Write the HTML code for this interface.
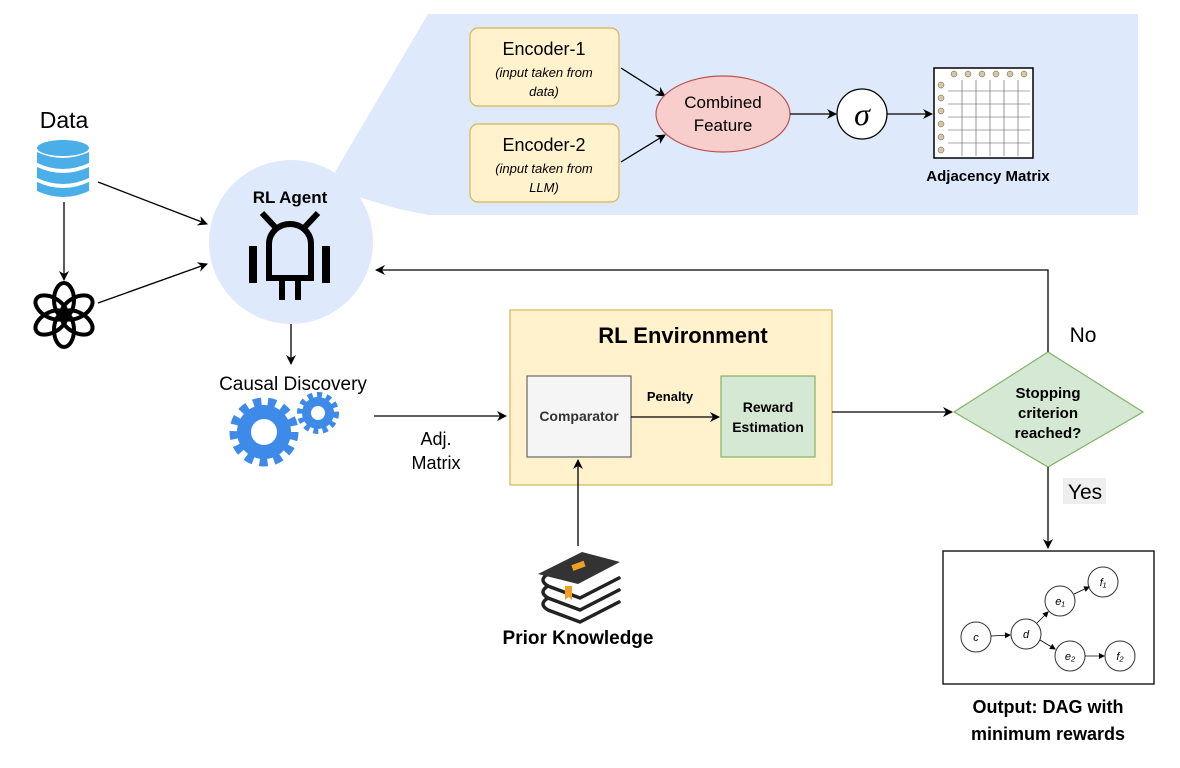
<!DOCTYPE html>
<html><head><meta charset="utf-8"><style>
html,body{margin:0;padding:0;background:#fff}
svg{display:block}
text{font-family:"Liberation Sans",Arial,sans-serif}
</style></head><body>
<svg width="1180" height="768" viewBox="0 0 1180 768" xmlns="http://www.w3.org/2000/svg">
<defs>
<marker id="a" markerWidth="10" markerHeight="10" refX="9" refY="5" orient="auto" markerUnits="userSpaceOnUse"><path d="M0,0 L10,5 L0,10 L3,5 z" fill="#000"/></marker>
<marker id="s" markerWidth="6" markerHeight="6" refX="5" refY="3" orient="auto" markerUnits="userSpaceOnUse"><path d="M0,0 L6,3 L0,6 z" fill="#000"/></marker>
</defs>
<polygon points="428,14 1138,14 1138,215 428,215 395,208 355,196 335,172" fill="#dfe9fc"/>
<circle cx="291" cy="242" r="82" fill="#dfe9fc"/>
<text x="64" y="128" font-size="23" text-anchor="middle">Data</text>
<g fill="#4aaee8">
<ellipse cx="63" cy="148" rx="26" ry="8"/>
<path d="M37,152 q26,12 52,0 v11 q-26,12 -52,0z"/>
<path d="M37,167 q26,12 52,0 v11 q-26,12 -52,0z"/>
<path d="M37,182 q26,12 52,0 v9 q-26,12 -52,0z"/>
</g>
<line x1="64" y1="202" x2="64" y2="280" stroke="#000" stroke-width="1.3" marker-end="url(#a)"/>
<line x1="98" y1="182" x2="207" y2="224" stroke="#000" stroke-width="1.3" marker-end="url(#a)"/>
<line x1="98" y1="303" x2="207" y2="264" stroke="#000" stroke-width="1.3" marker-end="url(#a)"/>
<g fill="none" stroke="#000" stroke-width="4">
<ellipse cx="64" cy="300" rx="10" ry="17" transform="rotate(0 64 315)"/>
<ellipse cx="64" cy="300" rx="10" ry="17" transform="rotate(60 64 315)"/>
<ellipse cx="64" cy="300" rx="10" ry="17" transform="rotate(120 64 315)"/>
<ellipse cx="64" cy="300" rx="10" ry="17" transform="rotate(180 64 315)"/>
<ellipse cx="64" cy="300" rx="10" ry="17" transform="rotate(240 64 315)"/>
<ellipse cx="64" cy="300" rx="10" ry="17" transform="rotate(300 64 315)"/>
</g>
<text x="290" y="203" font-size="17" font-weight="bold" text-anchor="middle">RL Agent</text>
<g fill="none" stroke="#000" stroke-width="6">
<path d="M262,213 L276,228 M318,213 L304,228"/>
<path d="M269,278 V244 a21,20 0 0 1 42,0 V278 Z"/>
<path d="M282,278 v22 M298,278 v22"/>
</g>
<rect x="249" y="246" width="8" height="37"/><rect x="322" y="246" width="8" height="37"/>
<line x1="291" y1="324" x2="291" y2="364" stroke="#000" stroke-width="1.3" marker-end="url(#a)"/>
<text x="293" y="390" font-size="19" text-anchor="middle">Causal Discovery</text>
<g fill="#3d8ae8">
<circle cx="264" cy="432" r="27"/><circle cx="318" cy="413" r="16"/>
</g>
<g stroke="#3d8ae8" stroke-width="9" stroke-dasharray="8 6.5"><circle cx="264" cy="432" r="30" fill="none"/></g>
<g stroke="#3d8ae8" stroke-width="6" stroke-dasharray="5 4.3"><circle cx="318" cy="413" r="18" fill="none"/></g>
<circle cx="264" cy="432" r="13" fill="#fff"/><circle cx="318" cy="413" r="7" fill="#fff"/>
<rect x="470" y="28" width="149" height="78" rx="8" fill="#fff2cc" stroke="#d6b656" stroke-width="1.2"/>
<text x="544" y="55" font-size="18" text-anchor="middle">Encoder-1</text>
<text x="544" y="77" font-size="13" font-style="italic" text-anchor="middle">(input taken from</text>
<text x="544" y="96" font-size="13" font-style="italic" text-anchor="middle">data)</text>
<rect x="470" y="124" width="149" height="78" rx="8" fill="#fff2cc" stroke="#d6b656" stroke-width="1.2"/>
<text x="544" y="151" font-size="18" text-anchor="middle">Encoder-2</text>
<text x="544" y="173" font-size="13" font-style="italic" text-anchor="middle">(input taken from</text>
<text x="544" y="192" font-size="13" font-style="italic" text-anchor="middle">LLM)</text>
<line x1="621" y1="68" x2="665" y2="96" stroke="#000" stroke-width="1.3" marker-end="url(#a)"/>
<line x1="621" y1="162" x2="665" y2="135" stroke="#000" stroke-width="1.3" marker-end="url(#a)"/>
<ellipse cx="723" cy="114" rx="67" ry="38" fill="#f8cecc" stroke="#b85450" stroke-width="1.2"/>
<text x="723" y="108" font-size="17" text-anchor="middle">Combined</text>
<text x="723" y="131" font-size="17" text-anchor="middle">Feature</text>
<line x1="790" y1="114" x2="836" y2="114" stroke="#000" stroke-width="1.3" marker-end="url(#a)"/>
<circle cx="862" cy="114" r="25" fill="#fff" stroke="#000" stroke-width="1.3"/>
<text x="862" y="125" font-size="32" font-style="italic" text-anchor="middle" style="font-family:'Liberation Serif',serif">σ</text>
<line x1="887" y1="114" x2="932" y2="114" stroke="#000" stroke-width="1.3" marker-end="url(#a)"/>
<rect x="934" y="68" width="99" height="90" fill="#fff" stroke="#000" stroke-width="1.5"/>
<g stroke="#555" stroke-width="0.6">
<line x1="948" y1="91" x2="1030" y2="91"/><line x1="948" y1="104" x2="1030" y2="104"/><line x1="948" y1="117" x2="1030" y2="117"/><line x1="948" y1="130" x2="1030" y2="130"/><line x1="948" y1="143" x2="1030" y2="143"/>
<line x1="962" y1="80" x2="962" y2="156"/><line x1="976" y1="80" x2="976" y2="156"/><line x1="990" y1="80" x2="990" y2="156"/><line x1="1004" y1="80" x2="1004" y2="156"/><line x1="1018" y1="80" x2="1018" y2="156"/>
</g>
<g fill="#d8c8a0" stroke="#555" stroke-width="0.5">
<circle cx="954" cy="74" r="3"/><circle cx="968" cy="74" r="3"/><circle cx="982" cy="74" r="3"/><circle cx="996" cy="74" r="3"/><circle cx="1010" cy="74" r="3"/><circle cx="1024" cy="74" r="3"/>
<circle cx="941" cy="85" r="3"/><circle cx="941" cy="98" r="3"/><circle cx="941" cy="111" r="3"/><circle cx="941" cy="124" r="3"/><circle cx="941" cy="137" r="3"/><circle cx="941" cy="150" r="3"/>
</g>
<text x="988" y="181" font-size="15" font-weight="bold" text-anchor="middle">Adjacency Matrix</text>
<rect x="510" y="310" width="322" height="175" fill="#fff2cc" stroke="#d6b656" stroke-width="1.2"/>
<text x="683" y="343" font-size="22" font-weight="bold" text-anchor="middle">RL Environment</text>
<rect x="527" y="376" width="104" height="81" fill="#f5f5f5" stroke="#666" stroke-width="1.2"/>
<text x="579" y="421" font-size="14" font-weight="bold" fill="#333" text-anchor="middle">Comparator</text>
<line x1="631" y1="417" x2="719" y2="417" stroke="#000" stroke-width="1.3" marker-end="url(#a)"/>
<text x="670" y="401" font-size="13" font-weight="bold" text-anchor="middle">Penalty</text>
<rect x="721" y="376" width="94" height="81" fill="#d5e8d4" stroke="#82b366" stroke-width="1.2"/>
<text x="768" y="412" font-size="14" font-weight="bold" text-anchor="middle">Reward</text>
<text x="768" y="432" font-size="14" font-weight="bold" text-anchor="middle">Estimation</text>
<line x1="374" y1="416" x2="506" y2="416" stroke="#000" stroke-width="1.3" marker-end="url(#a)"/>
<text x="436" y="445" font-size="18" text-anchor="middle">Adj.</text>
<text x="436" y="469" font-size="18" text-anchor="middle">Matrix</text>
<line x1="578" y1="546" x2="578" y2="460" stroke="#000" stroke-width="1.3" marker-end="url(#a)"/>
<g fill="none" stroke="#222" stroke-width="3.5" stroke-linecap="round">
<path d="M548,574 q-10,6 0,12 L580,598 L619,578 M548,586 q-10,6 0,12 L580,610 L619,590 M548,598 q-10,6 0,12 L580,622 L619,602"/>
</g>
<path d="M538,574 L582,552 L620,562 L578,584 Z" fill="#333"/>
<rect x="572" y="563" width="13" height="6" fill="#f0a020" transform="rotate(-20 578 566)"/>
<path d="M565,586 h7 v14 l-3.5,-3 l-3.5,3z" fill="#f0a020"/>
<text x="578" y="644" font-size="19" font-weight="bold" text-anchor="middle">Prior Knowledge</text>
<line x1="832" y1="412" x2="952" y2="412" stroke="#000" stroke-width="1.3" marker-end="url(#a)"/>
<polygon points="1048,352 1143,412 1048,467 954,412" fill="#d5e8d4" stroke="#82b366" stroke-width="1.2"/>
<text x="1048" y="398" font-size="15" font-weight="bold" text-anchor="middle">Stopping</text>
<text x="1048" y="418" font-size="15" font-weight="bold" text-anchor="middle">criterion</text>
<text x="1048" y="438" font-size="15" font-weight="bold" text-anchor="middle">reached?</text>
<polyline points="1048,352 1048,270 376,270" fill="none" stroke="#000" stroke-width="1.3" marker-end="url(#a)"/>
<text x="1083" y="342" font-size="21" text-anchor="middle">No</text>
<line x1="1048" y1="467" x2="1048" y2="548" stroke="#000" stroke-width="1.3" marker-end="url(#a)"/>
<rect x="1063" y="478" width="43" height="26" fill="#eee"/>
<text x="1085" y="499" font-size="21" text-anchor="middle">Yes</text>
<rect x="943" y="551" width="211" height="133" fill="#fff" stroke="#000" stroke-width="1.3"/>
<g fill="#fff" stroke="#333" stroke-width="1">
<circle cx="976" cy="637" r="15"/><circle cx="1026" cy="634" r="15"/><circle cx="1060" cy="601" r="15"/><circle cx="1103" cy="582" r="15"/><circle cx="1070" cy="656" r="15"/><circle cx="1120" cy="656" r="15"/>
</g>
<g stroke="#000" stroke-width="0.8" marker-end="url(#s)">
<line x1="991" y1="636" x2="1010" y2="635"/><line x1="1037" y1="623" x2="1048" y2="612"/><line x1="1074" y1="594" x2="1089" y2="587"/><line x1="1040" y1="640" x2="1055" y2="649"/><line x1="1085" y1="656" x2="1104" y2="656"/>
</g>
<g font-size="11" font-style="italic" text-anchor="middle" style="font-family:'Liberation Serif',serif">
<text x="976" y="641">c</text><text x="1026" y="638">d</text><text x="1060" y="605">e₁</text><text x="1103" y="586">f₁</text><text x="1070" y="660">e₂</text><text x="1120" y="660">f₂</text>
</g>
<text x="1048" y="713" font-size="18" font-weight="bold" text-anchor="middle">Output: DAG with</text>
<text x="1048" y="740" font-size="18" font-weight="bold" text-anchor="middle">minimum rewards</text>
</svg>
</body></html>
